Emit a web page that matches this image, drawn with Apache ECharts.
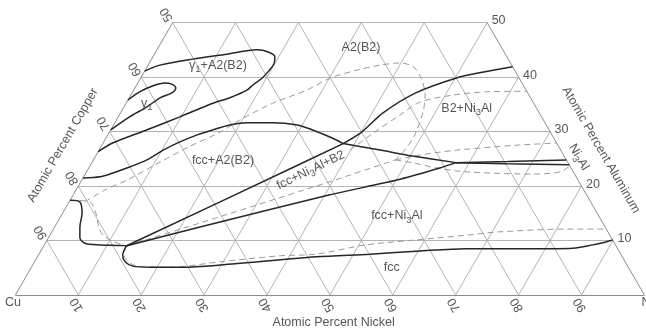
<!DOCTYPE html>
<html>
<head>
<meta charset="utf-8">
<script src="https://cdn.jsdelivr.net/npm/echarts@6/dist/echarts.min.js"></script>
<style>
html,body{margin:0;padding:0;background:#fff}
#chart{width:646px;height:330px}
</style>
</head>
<body>
<div id="chart"></div>
<script>
// all curves are [Ni, Al] in atomic percent (Cu = 100 - Ni - Al)
const niTicks = [10, 20, 30, 40, 50, 60, 70, 80, 90]
const cuTicks = [50, 60, 70, 80, 90]
const alTicks = [10, 20, 30, 40, 50]

// solid boundaries
const gammaA2Loop = [[0,41.1],[1.9,42.2],[6.5,43.3],[11.5,44.2],[15.9,45.0],[17.9,44.6],[19.4,43.7],[19.9,42.4],[19.7,41.1],[19.3,39.8],[18.5,38.6],[18.0,37.6],[16.0,36.2],[13.8,35.2],[9.8,32.7],[5.7,30.3],[1.5,27.9],[0,26.3]]
const gamma1Loop = [[0,35.8],[1.1,37.3],[2.7,38.4],[4.3,38.9],[5.5,38.7],[6.5,38.0],[6.3,37.1],[4.9,36.2],[3.6,34.5],[1.8,32.7],[0,30.3]]
const a2Lower = [[0,21.5],[2.6,21.7],[4.3,22.4],[6.4,23.5],[8.5,24.8],[10.2,26.6],[12.1,28.1],[14.2,29.4],[16.2,30.3],[18.5,31.2],[21.0,31.6],[25.1,31.6],[29.2,31.2],[32.1,30.3],[35.5,29.0],[38.2,27.8]]
const b2Boundary = [[38.2,27.8],[40.1,29.9],[41.7,33.4],[45.1,37.1],[50.1,39.8],[53.8,40.9],[58.1,41.9]]
const b2Ni3Al = [[38.2,27.8],[44.7,26.6],[50.4,25.5],[57.9,24.3]]
const ni3AlUpper = [[57.9,24.3],[66.0,24.5],[75.2,24.8]]
const ni3AlLower = [[57.9,24.3],[66.0,24.1],[76.1,23.9]]
const fccNi3Al = [[13.1,9.0],[23.1,12.5],[40.8,18.4],[50.1,21.1],[55.8,23.3],[57.9,24.3]]
const fccB2 = [[13.1,9.0],[24.0,17.1],[33.2,24.0],[38.2,27.8]]
const fccBoundary = [[0,17.4],[1.7,17.1],[3.1,15.0],[4.0,12.5],[5.0,10.5],[6.3,9.5],[8.9,9.2],[11.8,9.1],[13.1,9.0],[13.4,7.3],[14.4,6.1],[16.0,5.3],[18.8,5.1],[24.1,5.1],[29.8,5.5],[44.3,7.0],[52.6,7.5],[60.3,8.1],[67.5,8.5],[78.1,8.5],[84.3,8.6],[87.2,9.2],[88.9,9.7],[89.9,10.1]]

// dashed boundaries
const dFcc = [[0,17.4],[3.3,17.1],[5.3,15.0],[7.0,12.5],[8.4,11.0],[10.0,10.1],[11.9,9.4],[13.1,9.0]]
const dLoop = [[13.1,9.0],[13.6,7.3],[14.9,6.1],[16.7,5.3],[22.0,5.1],[29.5,6.1],[38.5,7.2],[44.0,7.5],[51.1,9.2],[58.6,10.1],[66.3,11.0],[71.2,11.6],[81.6,12.1],[87.9,12.1]]
const dA2 = [[2.5,17.1],[4.6,19.3],[7.2,21.1],[10.8,24.4],[14.1,27.3],[17.6,29.9],[19.6,32.1],[23.3,35.2],[27.5,37.6],[30.1,39.8],[33.7,41.3],[36.9,42.2],[39.8,42.6],[42.3,41.9],[44.6,39.8],[46.8,36.7],[48.0,33.6],[48.8,29.4],[48.6,26.6],[48.0,24.8]]
const dFccB2 = [[13.1,9.0],[22.7,13.2],[39.6,20.8],[48.0,24.8]]
const dNi3AlUpper = [[48.0,24.8],[51.5,25.7],[56.9,26.6],[66.0,27.5],[72.1,27.9]]
const dNi3AlLower = [[48.0,24.8],[51.4,24.2],[55.4,23.3],[60.5,22.6],[71.2,22.2],[75.3,22.6],[76.3,23.7]]
const dB2 = [[39.9,26.6],[42.0,29.7],[44.6,33.0],[46.6,35.4],[51.2,36.7],[56.3,37.3],[62.6,37.4]]

// pixel layout of the triangle
const X0 = 15.4, Y0 = 295, PX = 6.29, PY = PX * Math.sqrt(3) / 2
const W = 646, H = 330
const tern = p => [p[0] + p[1] / 2, p[1]]

const segs = []
alTicks.forEach(a => segs.push([[0, a], [100 - a, a]]))
niTicks.forEach(n => segs.push([[n, 0], [n, Math.min(50, 100 - n)]]))
niTicks.forEach(c => {
  const top = Math.min(50, 100 - c)
  segs.push([[100 - c, 0], [100 - c - top, top]])
})
const border = [[[0,0],[100,0]], [[0,0],[0,50]], [[100,0],[50,50]]]

const solid = (d, sm) => ({
  type: 'line', data: d.map(tern), symbol: 'none', smooth: sm, silent: true, z: 3,
  lineStyle: { color: '#262626', width: 1.5 }
})
const dashed = (d, sm) => ({
  type: 'line', data: d.map(tern), symbol: 'none', smooth: sm, silent: true, z: 2,
  lineStyle: { color: '#9a9a9a', width: 1, type: [6, 4] }
})

const texts = []
const put = (at, f, rot, extra) => texts.push({ value: tern(at), label: Object.assign({ formatter: f, rotate: rot || 0 }, extra || {}) })

put([11.1, 42.2], '{t|γ}{s|1}{t|+A2(B2)}')
put([3.3, 35.2], '{t|γ}{s|1}')
put([32.2, 45.5], '{t|A2(B2)}')
put([54.6, 34.3], '{t|B2+Ni}{s|3}{t|Al}')
put([20.7, 24.6], '{t|fcc+A2(B2)}')
put([35.5, 22.9], '{t|fcc+Ni}{s|3}{t|Al+B2}', 26)
put([53.4, 14.5], '{t|fcc+Ni}{s|3}{t|Al}')
put([57.3, 5.1], '{t|fcc}')
put([76.9, 25.3], '{t|Ni}{s|3}{t|Al}', -60)
put([53.1, -5.0], '{t|Atomic Percent Nickel}')
put([-6.2, 27.5], '{t|Atomic Percent Copper}', 60)
put([79.8, 26.6], '{t|Atomic Percent Aluminum}', -60)
put([0.26, -1.3], '{t|Cu}')
put([100.1, -1.3], '{t|Ni}', 0, { position: 'right', distance: 0 })

// tick labels sit along the extension of the grid lines, turned like the original
niTicks.forEach(n => texts.push({ value: [n - 1.5 / PX, -10 / PY], label: { formatter: '{t|' + n + '}', rotate: 120 } }))
cuTicks.forEach(c => {
  const a = 100 - c
  texts.push({ value: [a / 2 - 6 / PX, a + 8 / PY], label: { formatter: '{t|' + c + '}', rotate: 120 } })
})
alTicks.forEach(a => texts.push({ value: [100 - a / 2, a + 2 / PY], label: { formatter: '{t|' + a + '}', position: 'right', distance: 4 } }))

const chart = echarts.init(document.getElementById('chart'))
chart.setOption({
  animation: false,
  backgroundColor: '#fff',
  grid: { left: 0, right: 0, top: 0, bottom: 0 },
  xAxis: { type: 'value', min: -X0 / PX, max: (W - X0) / PX, show: false },
  yAxis: { type: 'value', min: -(H - Y0) / PY, max: Y0 / PY, show: false },
  series: [
    { type: 'lines', coordinateSystem: 'cartesian2d', silent: true, z: 1,
      lineStyle: { color: '#b4b4b4', width: 1, opacity: 1 },
      data: segs.map(s => ({ coords: s.map(tern) })) },
    { type: 'lines', coordinateSystem: 'cartesian2d', silent: true, z: 1,
      lineStyle: { color: '#8c8c8c', width: 1, opacity: 1 },
      data: border.map(s => ({ coords: s.map(tern) })) },
    dashed(dFcc, 0.3), dashed(dLoop, 0.3), dashed(dA2, 0.3), dashed(dFccB2, 0.2),
    dashed(dNi3AlUpper, 0.3), dashed(dNi3AlLower, 0.3), dashed(dB2, 0.3),
    solid(gammaA2Loop, 0.3), solid(gamma1Loop, 0.3), solid(a2Lower, 0.3),
    solid(b2Boundary, 0.3), solid(b2Ni3Al, 0.2), solid(ni3AlUpper, 0), solid(ni3AlLower, 0),
    solid(fccNi3Al, 0.2), solid(fccB2, 0), solid(fccBoundary, 0.3),
    { type: 'scatter', data: texts, symbolSize: 1, silent: true, z: 5,
      itemStyle: { color: 'transparent' },
      label: {
        show: true, position: 'inside', color: '#2b2b2b',
        fontFamily: 'Liberation Sans, Arial, sans-serif', fontSize: 12.5,
        rich: {
          t: { fontSize: 12.5, lineHeight: 18, verticalAlign: 'middle', color: '#2b2b2b', fontFamily: 'Liberation Sans, Arial, sans-serif' },
          s: { fontSize: 9.5, lineHeight: 10, verticalAlign: 'bottom', color: '#2b2b2b', fontFamily: 'Liberation Sans, Arial, sans-serif' }
        }
      } }
  ]
})
window.addEventListener('resize', () => chart.resize())
</script>
</body>
</html>
